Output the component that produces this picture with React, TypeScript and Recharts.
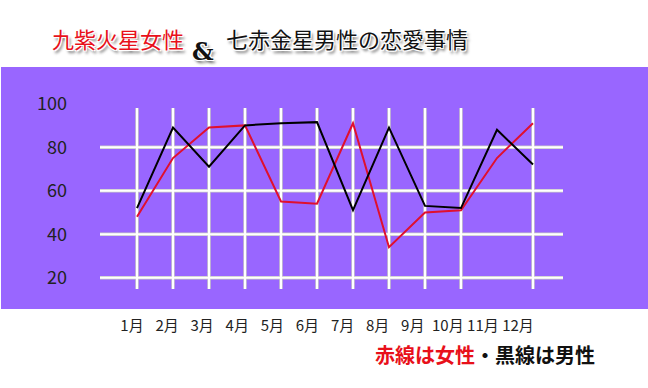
import { LineChart, Line, XAxis, YAxis, CartesianGrid } from 'recharts'

const months = ['1月', '2月', '3月', '4月', '5月', '6月', '7月', '8月', '9月', '10月', '11月', '12月']
const womenScores = [48, 75, 89, 90, 55, 54, 91, 34, 50, 51, 75, 91]
const menScores = [52, 89, 71, 90, 91, 91.5, 51, 89, 53, 52, 88, 72]
const yTicks = [20, 40, 60, 80, 100]

const data = months.map((month, i) => ({ month, women: womenScores[i], men: menScores[i] }))

const jp = '"Noto Sans CJK JP", "Noto Sans", sans-serif'

const glow =
  '-1px -1px 0 #fff, 1px -1px 0 #fff, -1px 1px 0 #fff, 1px 1px 0 #fff, 2px 3px 3px rgba(0,0,0,0.6)'

// the 100 tick sits above the plot area and gets no grid line
const gridRow = (color: string, width: number) => (p: any) => {
  if (typeof p.y === 'number' && p.y1 < p.y - 0.5) return <g key={p.key} />
  return <line key={p.key} x1={p.x1} y1={p.y1} x2={p.x2} y2={p.y2} stroke={color} strokeWidth={width} />
}

export default function App() {
  return (
    <div style={{ position: 'absolute', left: 0, top: 0, width: 648, height: 388, background: '#fff', overflow: 'hidden', fontFamily: jp }}>
      <div style={{ position: 'absolute', left: 52, top: 27, fontSize: 22, lineHeight: 1, color: '#e8101a', textShadow: glow, whiteSpace: 'nowrap' }}>
        九紫火星女性
      </div>
      <div style={{ position: 'absolute', left: 192, top: 40, fontSize: 24, lineHeight: 1, fontFamily: '"DejaVu Serif", serif', fontWeight: 700, color: '#111', textShadow: glow }}>
        &amp;
      </div>
      <div style={{ position: 'absolute', left: 226, top: 27, fontSize: 22, lineHeight: 1, color: '#111', textShadow: glow, whiteSpace: 'nowrap' }}>
        七赤金星男性の恋愛事情
      </div>
      <div style={{ position: 'absolute', left: 1, top: 67, width: 647, height: 242, background: '#9966ff' }} />
      <div style={{ position: 'absolute', left: 0, top: 0 }}>
        <LineChart width={648} height={388} data={data} margin={{ top: 108, right: 85, bottom: 39, left: 0 }}>
          <CartesianGrid stroke="#c8c8c8" strokeWidth={3.5} syncWithTicks horizontal={gridRow('#c8c8c8', 3.5)} />
          <CartesianGrid stroke="#ffffff" strokeWidth={2} syncWithTicks horizontal={gridRow('#ffffff', 2)} />
          <XAxis dataKey="month" hide height={0} padding={{ left: 37, right: 30 }} />
          <XAxis
            xAxisId="labels"
            dataKey="month"
            padding={{ left: 32, right: 45 }}
            height={60}
            axisLine={false}
            tickLine={false}
            tickSize={0}
            tickMargin={31}
            interval={0}
            tick={{ fontSize: 15, fill: '#222', fontFamily: jp }}
          />
          <YAxis
            width={100}
            domain={[14.8, 98]}
            ticks={yTicks}
            allowDataOverflow
            axisLine={false}
            tickLine={false}
            tickSize={0}
            tickMargin={33}
            tick={{ fontSize: 18, fill: '#222', fontFamily: jp }}
          />
          <Line dataKey="women" stroke="#e0102e" strokeWidth={2} dot={false} isAnimationActive={false} />
          <Line dataKey="men" stroke="#000" strokeWidth={2} dot={false} isAnimationActive={false} />
        </LineChart>
      </div>
      <div style={{ position: 'absolute', left: 375, top: 345, fontSize: 20, lineHeight: 1, fontWeight: 700, whiteSpace: 'nowrap', color: '#111' }}>
        <span style={{ color: '#e8101a' }}>赤線は女性</span>・黒線は男性
      </div>
    </div>
  )
}
